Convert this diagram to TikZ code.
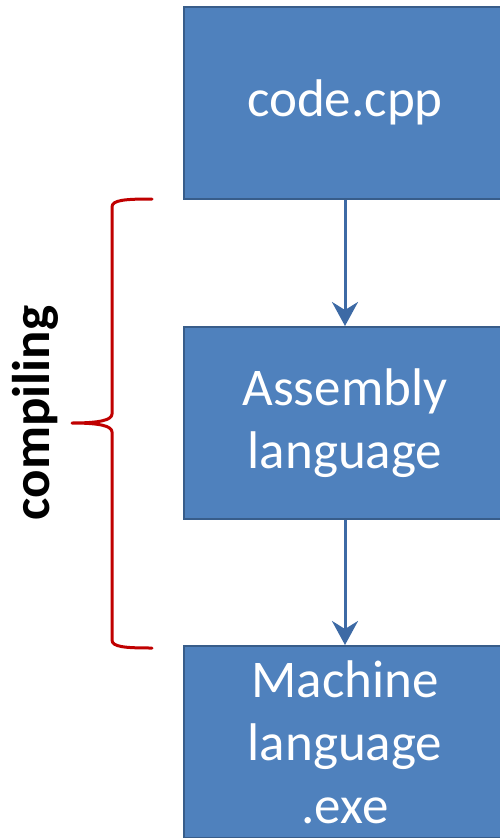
\documentclass[tikz,border=0pt]{standalone}
\usepackage{fontspec}
\setmainfont{Carlito}
\usetikzlibrary{arrows.meta}
\definecolor{boxfill}{HTML}{4F81BD}
\definecolor{boxline}{HTML}{385D8A}
\definecolor{arrowcol}{HTML}{3D6AA5}
\definecolor{bracecol}{HTML}{C00000}
\tikzset{
  stagebox/.style={draw=boxline, line width=2pt, fill=boxfill, minimum width=322pt, minimum height=192pt,
    inner sep=0pt, text=white, align=center, font=\fontsize{53}{63}\selectfont},
  flowarrow/.style={draw=arrowcol, line width=3pt, -{Stealth[length=24pt, width=26pt, inset=8pt]}},
  bracestyle/.style={draw=bracecol, line width=3pt, line cap=round, line join=round}
}
\begin{document}
\begin{tikzpicture}[x=1pt, y=-1pt]
\path[use as bounding box, clip] (0,0) rectangle (500,838);
\fill[white] (0,0) rectangle (500,838);
\node[stagebox] (code) at (345,102.5) {code.cpp};
\node[stagebox] (asm) at (345,423) {Assembly\\language};
\node[stagebox] (mach) at (345,742) {Machine\\language\\.exe};
\draw[flowarrow] (code.south) -- (asm.north);
\draw[flowarrow] (asm.south) -- (mach.north);
\draw[bracestyle] (152,199) .. controls (125,199) and (112,200) .. (112,207)
  -- (112,414) .. controls (112,420) and (100,423) .. (72,423)
  .. controls (100,423) and (112,426) .. (112,432)
  -- (112,640) .. controls (112,647) and (125,648) .. (152,648);
\node[anchor=base, rotate=90, font=\bfseries\fontsize{53}{63}\selectfont] (lbl) at (49,413) {compiling};
\end{tikzpicture}
\end{document}
